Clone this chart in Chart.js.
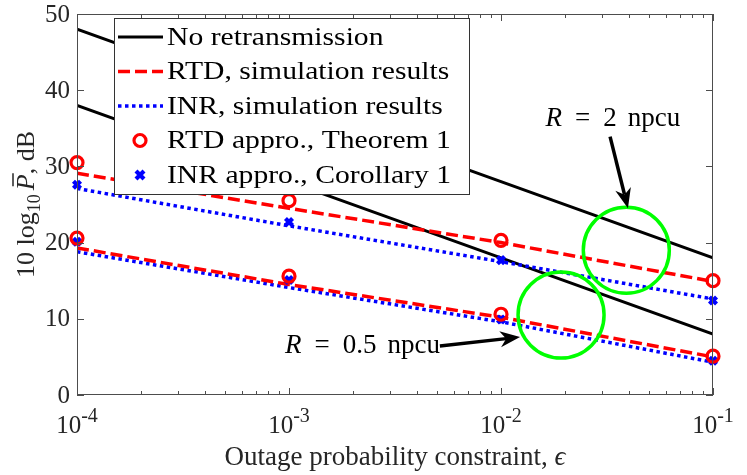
<!DOCTYPE html>
<html>
<head>
<meta charset="utf-8">
<script src="https://cdn.jsdelivr.net/npm/chart.js@4"></script>
<style>
  html, body { margin: 0; padding: 0; background: #fff; }
</style>
</head>
<body>
<canvas id="outageChart" width="747" height="475"></canvas>
<script>
// outage probability constraint (x) and transmit power in dB (y)
const epsilon = [1e-4, 1e-3, 1e-2, 1e-1];

const noRetxHigh = [48, 38, 28, 18];
const noRetxLow = [38, 28, 18, 8];
const rtdSimHigh = [29.1, 24.5, 20.0, 14.9];
const rtdSimLow = [19.3, 14.5, 10.2, 5.0];
const inrSimHigh = [27.1, 22.2, 17.5, 12.6];
const inrSimLow = [18.8, 14.1, 9.6, 4.3];
const rtdApproHigh = [30.5, 25.5, 20.3, 15.0];
const rtdApproLow = [20.6, 15.6, 10.6, 5.1];
const inrApproHigh = [27.6, 22.7, 17.7, 12.4];
const inrApproLow = [20.1, 15.1, 9.9, 4.5];

// green circles marking the two rate groups
const highlightX = [0.039, 0.0192];
const highlightY = [19.0, 10.5];

const yTicks = [0, 10, 20, 30, 40, 50];
const xTickExps = [-4, -3, -2, -1];

const legendLabels = [
  "No retransmission",
  "RTD, simulation results",
  "INR, simulation results",
  "RTD appro., Theorem 1",
  "INR appro., Corollary 1",
];

const SERIF = "'Liberation Serif', 'Times New Roman', serif";
const RED = "#ff0000";
const BLUE = "#0000ff";

function series(vals) {
  return epsilon.map((x, i) => ({ x: x, y: vals[i] }));
}

function lineSet(vals, color, dash, order) {
  return {
    data: series(vals),
    borderColor: color,
    backgroundColor: color,
    borderWidth: color === "#000000" ? 3 : 3.5,
    borderDash: dash,
    borderCapStyle: "butt",
    pointRadius: 0,
    tension: 0,
    fill: false,
    order: order,
  };
}

function markerSet(vals, color, style) {
  return {
    data: series(vals),
    showLine: false,
    borderColor: color,
    backgroundColor: "rgba(0,0,0,0)",
    pointStyle: style,
    pointRadius: style === "circle" ? 6 : 5,
    pointBorderWidth: style === "circle" ? 3.2 : 4.2,
    clip: false,
    order: 0,
  };
}

function drawArrow(ctx, x1, y1, x2, y2) {
  const dx = x2 - x1, dy = y2 - y1;
  const len = Math.hypot(dx, dy);
  const ux = dx / len, uy = dy / len;
  const nx = -uy, ny = ux;
  const L = 20, W = 8, notch = 6;
  ctx.save();
  ctx.strokeStyle = "#000";
  ctx.fillStyle = "#000";
  ctx.lineWidth = 3.5;
  ctx.beginPath();
  ctx.moveTo(x1, y1);
  ctx.lineTo(x2 - ux * (L - notch), y2 - uy * (L - notch));
  ctx.stroke();
  ctx.beginPath();
  ctx.moveTo(x2, y2);
  ctx.lineTo(x2 - ux * L + nx * W, y2 - uy * L + ny * W);
  ctx.lineTo(x2 - ux * (L - notch), y2 - uy * (L - notch));
  ctx.lineTo(x2 - ux * L - nx * W, y2 - uy * L - ny * W);
  ctx.closePath();
  ctx.fill();
  ctx.restore();
}

// draws text pieces one after another
function drawRuns(ctx, runs, x, y, align) {
  let total = 0;
  runs.forEach((r) => {
    ctx.font = r.font;
    total += ctx.measureText(r.t).width + (r.gap || 0);
  });
  let cx = align === "center" ? x - total / 2 : align === "right" ? x - total : x;
  runs.forEach((r) => {
    ctx.font = r.font;
    const w = ctx.measureText(r.t).width;
    ctx.fillText(r.t, cx, y + (r.dy || 0));
    if (r.bar) {
      ctx.save();
      ctx.lineWidth = 1.5;
      ctx.beginPath();
      ctx.moveTo(cx + 4, y - r.bar);
      ctx.lineTo(cx + w + 1, y - r.bar);
      ctx.strokeStyle = ctx.fillStyle;
      ctx.stroke();
      ctx.restore();
    }
    cx += w + (r.gap || 0);
  });
  return total;
}

function rateLabel(value) {
  const f = "27px " + SERIF;
  return [
    { t: "R", font: "italic " + f, gap: 13 },
    { t: "=", font: f, gap: 13 },
    { t: value, font: f, gap: 11 },
    { t: "npcu", font: f },
  ];
}

const decorPlugin = {
  id: "decor",
  afterDatasetsDraw(chart) {
    const ctx = chart.ctx;
    const a = chart.chartArea;
    const xs = chart.scales.x;
    const ys = chart.scales.y;

    ctx.save();
    // axes box
    ctx.strokeStyle = "#4d4d4d";
    ctx.lineWidth = 1;
    ctx.strokeRect(a.left + 0.5, a.top + 0.5, a.right - a.left - 1, a.bottom - a.top - 1);

    // y ticks, inside, both sides
    ctx.beginPath();
    yTicks.forEach((v) => {
      const py = Math.round(ys.getPixelForValue(v)) + 0.5;
      ctx.moveTo(a.left, py); ctx.lineTo(a.left + 7, py);
      ctx.moveTo(a.right, py); ctx.lineTo(a.right - 7, py);
    });
    // x ticks, major and minor
    xTickExps.forEach((e, k) => {
      for (let m = 1; m <= 9; m++) {
        if (k === xTickExps.length - 1 && m > 1) break;
        const px = Math.round(xs.getPixelForValue(m * Math.pow(10, e))) + 0.5;
        const len = m === 1 ? 7 : 4;
        ctx.moveTo(px, a.bottom); ctx.lineTo(px, a.bottom - len);
        ctx.moveTo(px, a.top); ctx.lineTo(px, a.top + len);
      }
    });
    ctx.stroke();

    // tick labels
    ctx.fillStyle = "#262626";
    ctx.textBaseline = "middle";
    ctx.textAlign = "right";
    ctx.font = "25px " + SERIF;
    yTicks.forEach((v) => {
      ctx.fillText(String(v), a.left - 7, ys.getPixelForValue(v) + 1);
    });
    ctx.textBaseline = "alphabetic";
    ctx.textAlign = "left";
    xTickExps.forEach((e) => {
      const px = xs.getPixelForValue(Math.pow(10, e));
      drawRuns(ctx, [
        { t: "10", font: "25px " + SERIF },
        { t: "-" + Math.abs(e), font: "20px " + SERIF, dy: -11 },
      ], px, a.bottom + 38, "center");
    });

    // x axis title
    drawRuns(ctx, [
      { t: "Outage probability constraint, ", font: "27px " + SERIF },
      { t: "\u03f5", font: "italic 27px " + SERIF },
    ], (a.left + a.right) / 2, a.bottom + 70, "center");

    // y axis title, rotated
    ctx.save();
    ctx.translate(34, (a.top + a.bottom) / 2);
    ctx.rotate(-Math.PI / 2);
    drawRuns(ctx, [
      { t: "10 log", font: "26px " + SERIF },
      { t: "10", font: "18px " + SERIF, dy: 6, gap: 4 },
      { t: "P", font: "italic 26px " + SERIF, bar: 21 },
      { t: ", dB", font: "26px " + SERIF },
    ], 0, 0, "center");
    ctx.restore();

    // annotations
    ctx.fillStyle = "#000";
    drawRuns(ctx, rateLabel("2"),
      xs.getPixelForValue(0.0337), ys.getPixelForValue(35.3), "center");
    drawArrow(ctx, xs.getPixelForValue(0.0327), ys.getPixelForValue(33.9),
      xs.getPixelForValue(0.0397), ys.getPixelForValue(24.5));

    drawRuns(ctx, rateLabel("0.5"),
      xs.getPixelForValue(0.00515), ys.getPixelForValue(5.5), "right");
    drawArrow(ctx, xs.getPixelForValue(0.00515), ys.getPixelForValue(6.43),
      xs.getPixelForValue(0.0123), ys.getPixelForValue(7.6));

    // legend
    const lx = 114, ly = 18, lw = 355, lh = 176;
    ctx.fillStyle = "#fff";
    ctx.fillRect(lx, ly, lw, lh);
    ctx.strokeStyle = "#333";
    ctx.lineWidth = 1;
    ctx.strokeRect(lx + 0.5, ly + 0.5, lw, lh);
    const rowY = [37, 71.5, 106, 140.5, 175];
    // line samples
    const samples = [
      { c: "#000", w: 3, d: [] },
      { c: RED, w: 3.5, d: [12, 5] },
      { c: BLUE, w: 3.5, d: [3.5, 3.5] },
    ];
    samples.forEach((s, i) => {
      ctx.beginPath();
      ctx.strokeStyle = s.c;
      ctx.lineWidth = s.w;
      ctx.setLineDash(s.d);
      ctx.moveTo(118, rowY[i]);
      ctx.lineTo(163, rowY[i]);
      ctx.stroke();
    });
    ctx.setLineDash([]);
    ctx.beginPath();
    ctx.strokeStyle = RED;
    ctx.lineWidth = 3.2;
    ctx.arc(140, rowY[3], 6, 0, Math.PI * 2);
    ctx.stroke();
    ctx.beginPath();
    ctx.strokeStyle = BLUE;
    ctx.lineWidth = 4.2;
    ctx.moveTo(136, rowY[4] - 4); ctx.lineTo(144, rowY[4] + 4);
    ctx.moveTo(144, rowY[4] - 4); ctx.lineTo(136, rowY[4] + 4);
    ctx.stroke();

    ctx.fillStyle = "#000";
    ctx.font = "26px " + SERIF;
    ctx.textBaseline = "middle";
    legendLabels.forEach((lab, i) => {
      ctx.save();
      ctx.translate(167, rowY[i] + 1);
      ctx.scale(1.14, 1);
      ctx.fillText(lab, 0, 0);
      ctx.restore();
    });
    ctx.restore();
  },
};

new Chart(document.getElementById("outageChart"), {
  type: "line",
  data: {
    datasets: [
      {
        type: "scatter",
        data: highlightX.map((x, i) => ({ x: x, y: highlightY[i] })),
        showLine: false,
        pointStyle: "circle",
        pointRadius: 43,
        pointBorderWidth: 3.5,
        borderColor: "#00ff00",
        backgroundColor: "rgba(0,0,0,0)",
        clip: false,
        order: -1,
      },
      markerSet(rtdApproHigh, RED, "circle"),
      markerSet(rtdApproLow, RED, "circle"),
      markerSet(inrApproHigh, BLUE, "crossRot"),
      markerSet(inrApproLow, BLUE, "crossRot"),
      lineSet(rtdSimHigh, RED, [12, 5], 2),
      lineSet(rtdSimLow, RED, [12, 5], 2),
      lineSet(inrSimHigh, BLUE, [3.5, 3.5], 3),
      lineSet(inrSimLow, BLUE, [3.5, 3.5], 3),
      lineSet(noRetxHigh, "#000000", [], 4),
      lineSet(noRetxLow, "#000000", [], 4),
    ],
  },
  options: {
    responsive: false,
    animation: false,
    layout: { autoPadding: false, padding: { left: 77, top: 14, right: 34, bottom: 80 } },
    plugins: {
      legend: { display: false },
      tooltip: { enabled: false },
    },
    scales: {
      x: { type: "logarithmic", min: 1e-4, max: 1e-1, display: false },
      y: { type: "linear", min: 0, max: 50, display: false },
    },
  },
  plugins: [decorPlugin],
});
</script>
</body>
</html>
